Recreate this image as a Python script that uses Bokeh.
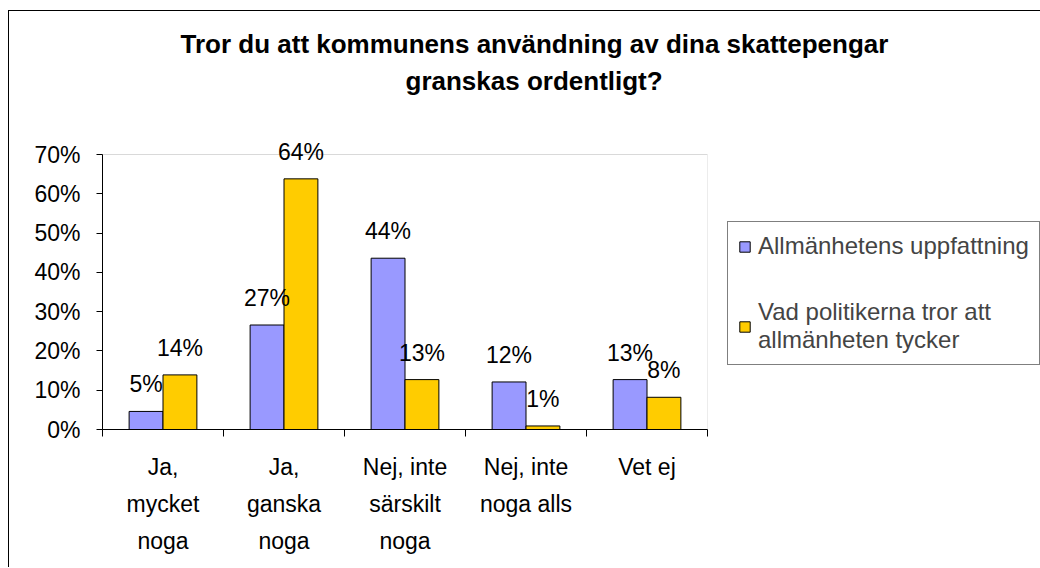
from bokeh.plotting import figure
from bokeh.models import (ColumnDataSource, LabelSet, Title, FixedTicker,
                          PrintfTickFormatter, Range1d, BoxAnnotation)
from bokeh.core.properties import value
from bokeh.transform import dodge
from bokeh.embed import file_html
from bokeh.resources import INLINE

# ---- data -------------------------------------------------------------
categories = ["Ja,\nmycket\nnoga", "Ja,\nganska\nnoga", "Nej, inte\nsärskilt\nnoga",
              "Nej, inte\nnoga alls", "Vet ej"]
series_names = ["Allmänhetens uppfattning",
                "Vad politikerna tror att\nallmänheten tycker"]
allmanheten = [4.6, 26.6, 43.6, 12.1, 12.7]
politikerna = [13.9, 63.8, 12.7, 0.9, 8.2]
y_ticks = [0, 10, 20, 30, 40, 50, 60, 70]
title_lines = ["Tror du att kommunens användning av dina skattepengar",
               "granskas ordentligt?"]
colors = ["#9999FF", "#FFCC00"]

FONT = "Liberation Sans"
FS = "23px"

n = len(categories)
x_pos = [i + 0.5 for i in range(n)]
src = ColumnDataSource(dict(
    x=x_pos, a=allmanheten, b=politikerna,
    la=[f"{round(v)}%" for v in allmanheten],
    lb=[f"{round(v)}%" for v in politikerna],
))

y_max = y_ticks[-1]
p = figure(frame_width=605, frame_height=287,
           x_range=Range1d(0, n), y_range=Range1d(0, y_max * 287 / 275),
           output_backend="svg", toolbar_location=None,
           min_border_left=93, min_border_right=332, min_border_top=131, min_border_bottom=138,
           styles={"border-top": "1px solid black", "border-left": "1px solid black",
                   "margin-left": "8px", "margin-top": "10px"})

# plot-area border (grey), drawn at the value-axis limits
p.add_layout(BoxAnnotation(left=0, right=n, bottom=0, top=y_max, fill_color=None,
                           line_color="#808080", line_width=1, level="underlay"))

bw = 0.28
p.vbar(x=dodge("x", -bw / 2), top="a", width=bw, source=src, fill_color=colors[0],
       line_color="black", line_width=1, legend_label=series_names[0])
p.vbar(x=dodge("x", bw / 2), top="b", width=bw, source=src, fill_color=colors[1],
       line_color="black", line_width=1, legend_label=series_names[1])

for col, lab, off in (("a", "la", -bw / 2), ("b", "lb", bw / 2)):
    p.add_layout(LabelSet(x=dodge("x", off), y=col, text=lab, source=src,
                          text_align="center", text_baseline="middle", y_offset=27,
                          text_font=value(FONT), text_font_size=value(FS),
                          text_color="black"))

# axes
p.xgrid.visible = False
p.ygrid.visible = False
p.outline_line_color = None

xa = p.xaxis[0]
xa.ticker = FixedTicker(ticks=x_pos, minor_ticks=list(range(n + 1)))
xa.major_label_overrides = {x: c for x, c in zip(x_pos, categories)}
xa.major_tick_line_color = None
xa.minor_tick_line_color = "black"
xa.minor_tick_out = 7
xa.minor_tick_in = 0
xa.axis_line_color = "black"
xa.major_label_text_font = FONT
xa.major_label_text_font_size = FS
xa.major_label_text_line_height = 1.44
xa.major_label_standoff = 17
xa.major_label_text_color = "black"

ya = p.yaxis[0]
ya.ticker = FixedTicker(ticks=y_ticks)
ya.formatter = PrintfTickFormatter(format="%d%%")
ya.bounds = (0, y_max)
ya.major_tick_out = 6
ya.major_tick_in = 0
ya.minor_tick_line_color = None
ya.axis_line_color = "black"
ya.major_label_text_font = FONT
ya.major_label_text_font_size = FS
ya.major_label_standoff = 16
ya.major_label_text_color = "black"

# title: two lines, added nearest-first
p.add_layout(Title(text=title_lines[1], align="left", offset=303, standoff=94,
                   text_font=FONT, text_font_style="bold", text_font_size="26px",
                   text_color="black"), "above")
p.add_layout(Title(text=title_lines[0], align="left", offset=78, standoff=-84,
                   text_font=FONT, text_font_style="bold", text_font_size="26px",
                   text_color="black"), "above")

# legend, outside the plot area on the right
lg = p.legend[0]
p.center.remove(lg)
p.add_layout(lg, "right")
lg.location = (20, 64)
lg.border_line_color = "black"
lg.border_line_width = 1
lg.background_fill_color = "white"
lg.background_fill_alpha = 1
lg.label_text_font = FONT
lg.label_text_font_size = "24px"
lg.label_text_line_height = 1.25
lg.glyph_width = 13
lg.glyph_height = 13
lg.label_standoff = 7
lg.spacing = 38
lg.padding = 10
lg.margin = 0

open("out.html", "w").write(file_html(p, INLINE))
